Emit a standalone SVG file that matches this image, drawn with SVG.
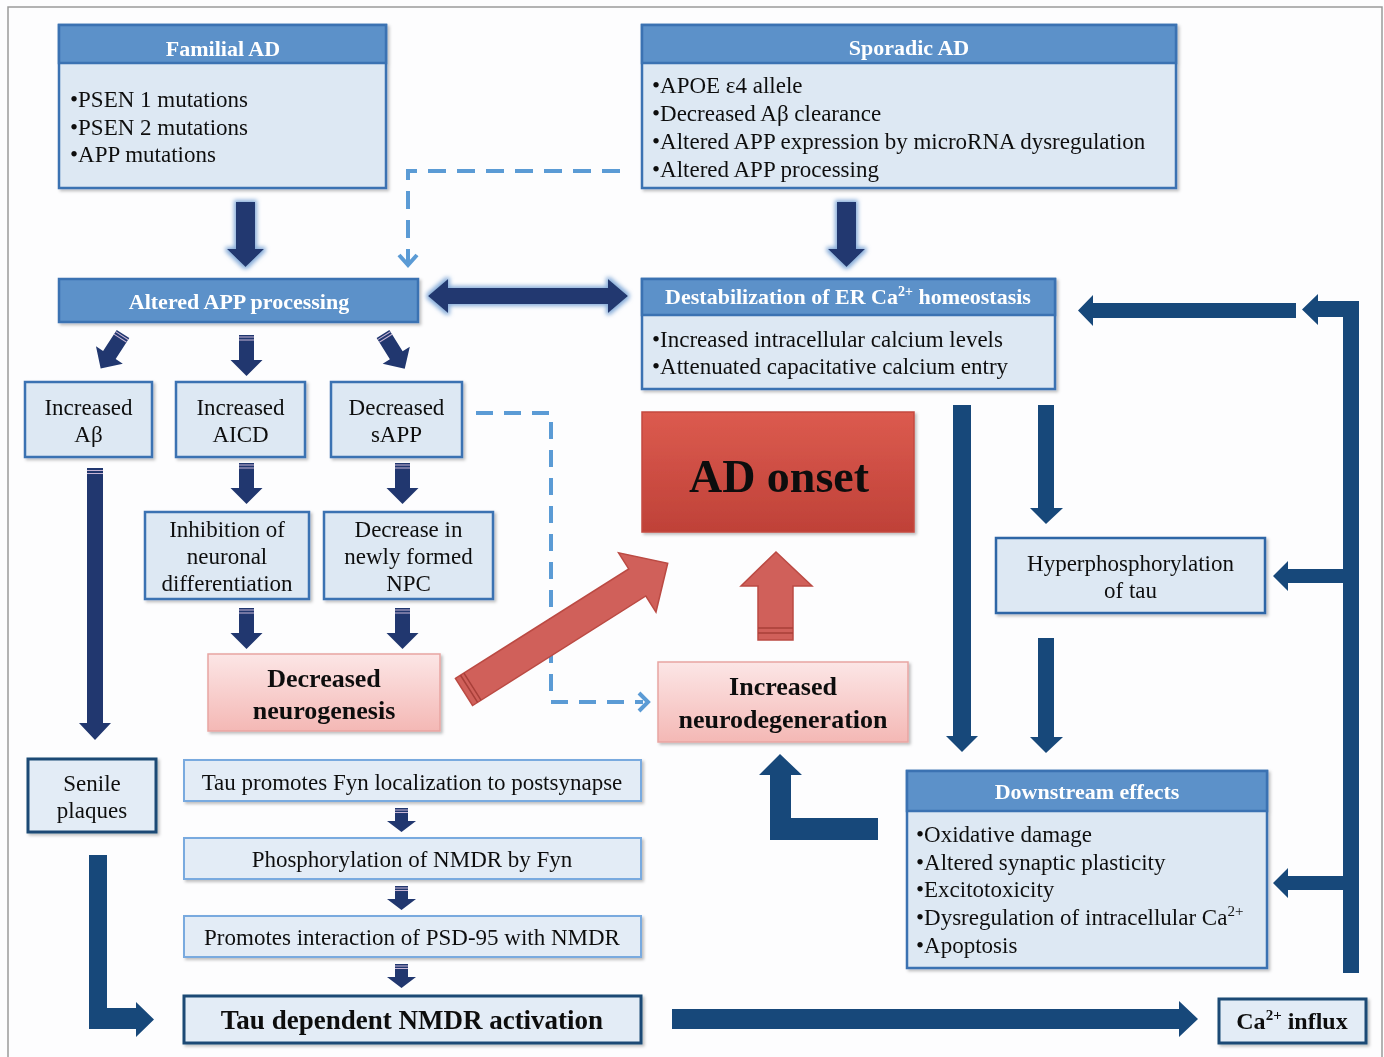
<svg xmlns="http://www.w3.org/2000/svg" xmlns:xlink="http://www.w3.org/1999/xlink" width="1384" height="1057" viewBox="0 0 1384 1057">
<defs>
<style>
.t{font-family:"Liberation Serif","Times New Roman",serif;font-size:23px;fill:#111}
.c{text-anchor:middle}
.b{font-weight:bold}
.th{font-family:"Liberation Serif","Times New Roman",serif;font-size:22px;font-weight:bold;fill:#fff;text-anchor:middle}
.hdr{fill:#5b91c9;stroke:#3a72b2;stroke-width:2.5}
.bd{fill:#dde8f3;stroke:#3a72b2;stroke-width:2.5}
.lt{fill:#e3ecf6;stroke:#79aadf;stroke-width:2}
.dk{fill:#e3ecf6;stroke:#1b4a75;stroke-width:3}
.navy{fill:#21376f}
.steel{fill:#17487a}
.dash{fill:none;stroke:#5b9bd5;stroke-width:4}
.chev{fill:none;stroke:#5b9bd5;stroke-width:4;stroke-linejoin:miter}
.red{fill:#d0605a;stroke:#bb4a43;stroke-width:1.5}
</style>
<linearGradient id="gRed" x1="0" y1="0" x2="0" y2="1">
<stop offset="0" stop-color="#dc5b4f"/><stop offset="1" stop-color="#bf4138"/>
</linearGradient>
<linearGradient id="gPink" x1="0" y1="0" x2="0" y2="1">
<stop offset="0" stop-color="#fce6e6"/><stop offset="1" stop-color="#f4b8b5"/>
</linearGradient>
<filter id="sh" x="-10%" y="-10%" width="130%" height="130%">
<feDropShadow dx="2" dy="2" stdDeviation="1.5" flood-color="#000" flood-opacity="0.25"/>
</filter>
<filter id="glow" x="-30%" y="-30%" width="160%" height="160%">
<feMorphology operator="dilate" radius="2" in="SourceAlpha" result="d"/>
<feGaussianBlur in="d" stdDeviation="2" result="b"/>
<feFlood flood-color="#86acd9"/>
<feComposite in2="b" operator="in"/>
<feMerge><feMergeNode/><feMergeNode in="SourceGraphic"/></feMerge>
</filter>
<g id="sa">
<path class="navy" d="M0,-7.5 H25 V-16 L41,0 L25,16 V7.5 H0 Z"/>
<path d="M2,-7.5V7.5M5,-7.5V7.5" stroke="#c8b6d6" stroke-width="1"/>
</g>
<g id="ss">
<path class="navy" d="M0,-6.5 H13 V-14.5 L24,0 L13,14.5 V6.5 H0 Z"/>
<path d="M2,-6.5V6.5M4.5,-6.5V6.5" stroke="#c8b6d6" stroke-width="1"/>
</g>
</defs>

<rect x="0" y="0" width="1384" height="1057" fill="#fdfdfe"/>
<rect x="8" y="7" width="1374" height="1070" fill="none" stroke="#9a9a9a" stroke-width="1.5"/>

<!-- connectors -->
<g id="connectors">
<!-- main navy arrows -->
<g filter="url(#glow)">
<path class="navy" d="M236,202 H255 V249 H264 L245.5,267 L227,249 H236 Z"/>
<path class="navy" d="M837,202 H856 V249 H865 L846.5,267 L828,249 H837 Z"/>
<path class="navy" d="M428,296 L448,279 V288 H608 V279 L628,296 L608,313 V304 H448 V313 Z"/>
</g>
<!-- small APP arrows -->
<use xlink:href="#sa" href="#sa" transform="translate(123,334) rotate(123)"/>
<use xlink:href="#sa" href="#sa" transform="translate(246.5,335) rotate(90)"/>
<use xlink:href="#sa" href="#sa" transform="translate(383,334) rotate(58)"/>
<use xlink:href="#sa" href="#sa" transform="translate(246.5,463) rotate(90)"/>
<use xlink:href="#sa" href="#sa" transform="translate(402.5,463) rotate(90)"/>
<use xlink:href="#sa" href="#sa" transform="translate(246.5,608) rotate(90)"/>
<use xlink:href="#sa" href="#sa" transform="translate(402.5,608) rotate(90)"/>
<!-- long Abeta arrow -->
<path class="navy" d="M87,468 H103 V723 H111 L95,740 L79,723 H87 Z"/>
<path d="M87,470.5H103M87,473.5H103" stroke="#c8b6d6" stroke-width="1"/>
<!-- tau chain arrows -->
<use xlink:href="#ss" href="#ss" transform="translate(401.5,808) rotate(90)"/>
<use xlink:href="#ss" href="#ss" transform="translate(401.5,886) rotate(90)"/>
<use xlink:href="#ss" href="#ss" transform="translate(401.5,964) rotate(90)"/>
<!-- dashed -->
<path class="dash" d="M620,171 H408 V262" stroke-dasharray="18 11"/>
<polyline class="chev" points="399,255 408,265 417,255"/>
<path class="dash" d="M476,413 H551 V702 H643" stroke-dasharray="17 11"/>
<polyline class="chev" points="639,693 648,702 639,711"/>
<!-- red arrows -->
<g transform="translate(464,692) rotate(-32.3)">
<path class="red" d="M0,-16 H205 V-35 L241,0 L205,35 V16 H0 Z"/>
<path d="M6,-16V16M10,-16V16" stroke="#a83f39" stroke-width="1.5"/>
</g>
<path class="red" d="M758,640 V586 H741 L776,552 L812,586 H793 V640 Z"/>
<path d="M758,628H793M758,633H793" stroke="#a83f39" stroke-width="1.5"/>
<!-- steel arrows -->
<rect class="steel" x="1343" y="301" width="16" height="672"/>
<path class="steel" d="M1350,301 H1318 V294 L1302,309.5 L1318,325 V317 H1350 Z"/>
<path class="steel" d="M1296,303 H1093 V295 L1078,310.5 L1093,326 V318 H1296 Z"/>
<path class="steel" d="M1350,569 H1288 V561 L1273,576 L1288,591 V583 H1350 Z"/>
<path class="steel" d="M1350,876 H1288 V868 L1273,883 L1288,898 V890 H1350 Z"/>
<path class="steel" d="M953,405 H971 V736 H978 L962,752 L946,736 H953 Z"/>
<path class="steel" d="M1038,405 H1054 V508 H1063 L1046,524 L1030,508 H1038 Z"/>
<path class="steel" d="M1038,638 H1054 V737 H1063 L1046,753 L1030,737 H1038 Z"/>
<path class="steel" d="M878,818 V840 H770 V775 H759 L780,754 L802,775 H791 V818 Z"/>
<path class="steel" d="M89,855 H107 V1008 H136 V1002 L154,1019.5 L136,1037 V1029 H89 Z"/>
<path class="steel" d="M672,1009 H1179 V1001 L1198,1019 L1179,1037 V1029 H672 Z"/>
</g>

<!-- nodes -->
<g id="familial" filter="url(#sh)">
<rect class="bd" x="59" y="25" width="327" height="163"/>
<rect class="hdr" x="59" y="25" width="327" height="38"/>
<text class="th" x="223" y="56">Familial AD</text>
<text class="t" x="70" y="107">•PSEN 1 mutations</text>
<text class="t" x="70" y="135">•PSEN 2 mutations</text>
<text class="t" x="70" y="162">•APP mutations</text>
</g>

<g id="sporadic" filter="url(#sh)">
<rect class="bd" x="642" y="25" width="534" height="163"/>
<rect class="hdr" x="642" y="25" width="534" height="38"/>
<text class="th" x="909" y="55">Sporadic AD</text>
<text class="t" x="652" y="93">•APOE ε4 allele</text>
<text class="t" x="652" y="121">•Decreased Aβ clearance</text>
<text class="t" x="652" y="149">•Altered APP expression by microRNA dysregulation</text>
<text class="t" x="652" y="177">•Altered APP processing</text>
</g>

<g id="altered-app" filter="url(#sh)">
<rect class="hdr" x="59" y="279" width="359" height="43"/>
<text class="th" x="239" y="309">Altered APP processing</text>
</g>

<g id="destabilization" filter="url(#sh)">
<rect class="bd" x="642" y="279" width="413" height="110"/>
<rect class="hdr" x="642" y="279" width="413" height="36"/>
<text class="th" x="848" y="304">Destabilization of ER Ca<tspan font-size="14" dy="-8">2+</tspan><tspan dy="8"> homeostasis</tspan></text>
<text class="t" x="652" y="347">•Increased intracellular calcium levels</text>
<text class="t" x="652" y="374">•Attenuated capacitative calcium entry</text>
</g>

<g id="increased-abeta" filter="url(#sh)">
<rect class="bd" x="25" y="382" width="127" height="75"/>
<text class="t c" x="88.5" y="415">Increased</text>
<text class="t c" x="88.5" y="442">Aβ</text>
</g>

<g id="increased-aicd" filter="url(#sh)">
<rect class="bd" x="176" y="382" width="129" height="75"/>
<text class="t c" x="240.5" y="415">Increased</text>
<text class="t c" x="240.5" y="442">AICD</text>
</g>

<g id="decreased-sapp" filter="url(#sh)">
<rect class="bd" x="331" y="382" width="131" height="75"/>
<text class="t c" x="396.5" y="415">Decreased</text>
<text class="t c" x="396.5" y="442">sAPP</text>
</g>

<g id="inhibition" filter="url(#sh)">
<rect class="bd" x="145" y="512" width="164" height="87"/>
<text class="t c" x="227" y="537">Inhibition of</text>
<text class="t c" x="227" y="564">neuronal</text>
<text class="t c" x="227" y="591">differentiation</text>
</g>

<g id="decrease-npc" filter="url(#sh)">
<rect class="bd" x="324" y="512" width="169" height="87"/>
<text class="t c" x="408.5" y="537">Decrease in</text>
<text class="t c" x="408.5" y="564">newly formed</text>
<text class="t c" x="408.5" y="591">NPC</text>
</g>

<g id="ad-onset" filter="url(#sh)">
<rect x="642" y="412" width="272" height="120" fill="url(#gRed)" stroke="#c44a40" stroke-width="1.5"/>
<text class="t c b" x="779" y="492" style="font-size:46px">AD onset</text>
</g>

<g id="decreased-neurogenesis" filter="url(#sh)">
<rect x="208" y="654" width="232" height="77" fill="url(#gPink)" stroke="#e8a5a2" stroke-width="1.5"/>
<text class="t c b" x="324" y="687" style="font-size:26px">Decreased</text>
<text class="t c b" x="324" y="719" style="font-size:26px">neurogenesis</text>
</g>

<g id="increased-neurodegeneration" filter="url(#sh)">
<rect x="658" y="662" width="250" height="80" fill="url(#gPink)" stroke="#e8a5a2" stroke-width="1.5"/>
<text class="t c b" x="783" y="695" style="font-size:26px">Increased</text>
<text class="t c b" x="783" y="728" style="font-size:26px">neurodegeneration</text>
</g>

<g id="hyperphosphorylation" filter="url(#sh)">
<rect class="bd" x="996" y="538" width="269" height="75" style="stroke:#2e66a6"/>
<text class="t c" x="1130.5" y="571">Hyperphosphorylation</text>
<text class="t c" x="1130.5" y="598">of tau</text>
</g>

<g id="downstream" filter="url(#sh)">
<rect class="bd" x="907" y="771" width="360" height="197"/>
<rect class="hdr" x="907" y="771" width="360" height="40"/>
<text class="th" x="1087" y="799">Downstream effects</text>
<text class="t" x="916" y="842">•Oxidative damage</text>
<text class="t" x="916" y="870">•Altered synaptic plasticity</text>
<text class="t" x="916" y="897">•Excitotoxicity</text>
<text class="t" x="916" y="925">•Dysregulation of intracellular Ca<tspan font-size="15" dy="-9">2+</tspan></text>
<text class="t" x="916" y="953">•Apoptosis</text>
</g>

<g id="senile-plaques" filter="url(#sh)">
<rect class="dk" x="28" y="759" width="128" height="73"/>
<text class="t c" x="92" y="791">Senile</text>
<text class="t c" x="92" y="818">plaques</text>
</g>

<g id="tau-fyn" filter="url(#sh)">
<rect class="lt" x="184" y="760" width="457" height="41"/>
<text class="t c" x="412" y="790">Tau promotes Fyn localization to postsynapse</text>
</g>

<g id="phospho-nmdr" filter="url(#sh)">
<rect class="lt" x="184" y="838" width="457" height="41"/>
<text class="t c" x="412" y="867">Phosphorylation of NMDR by Fyn</text>
</g>

<g id="psd95" filter="url(#sh)">
<rect class="lt" x="184" y="916" width="457" height="41"/>
<text class="t c" x="412" y="945">Promotes interaction of PSD-95 with NMDR</text>
</g>

<g id="tau-nmdr" filter="url(#sh)">
<rect class="dk" x="184" y="996" width="457" height="47"/>
<text class="t c b" x="412" y="1029" style="font-size:27px">Tau dependent NMDR activation</text>
</g>

<g id="ca-influx" filter="url(#sh)">
<rect class="dk" x="1219" y="999" width="147" height="44"/>
<text class="t c b" x="1292" y="1029" style="font-size:24px">Ca<tspan font-size="15" dy="-9">2+</tspan><tspan dy="9"> influx</tspan></text>
</g>
</svg>
